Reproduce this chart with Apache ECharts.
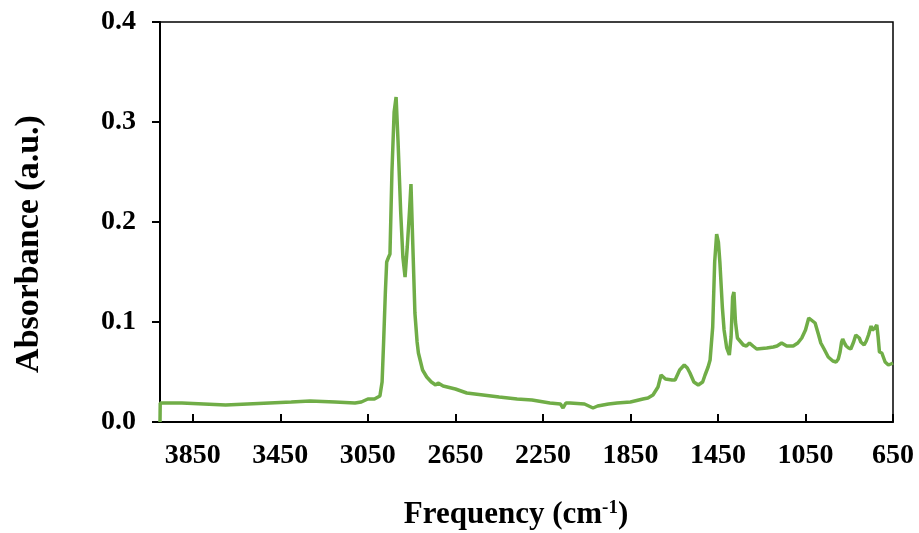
<!DOCTYPE html>
<html>
<head>
<meta charset="utf-8">
<script src="https://cdn.jsdelivr.net/npm/echarts@6/dist/echarts.min.js"></script>
<style>
  html, body { margin: 0; padding: 0; background: #fff; }
  #chart { width: 919px; height: 533px; }
</style>
</head>
<body>
<div id="chart"></div>
<script>
// FTIR spectrum, wavenumber (cm-1) vs absorbance
const wavenumber = [
  4000, 3999, 3900, 3800, 3700, 3600, 3500, 3400, 3314, 3200, 3109, 3080, 3050, 3020, 2995,
  2985, 2978, 2970, 2964, 2955, 2949, 2940, 2930, 2921, 2912, 2900, 2890, 2880, 2870, 2860,
  2853, 2845, 2835, 2825, 2819, 2800, 2781, 2760, 2752, 2740, 2729, 2706, 2650, 2598, 2524,
  2450, 2368, 2300, 2218, 2170, 2158, 2145, 2126, 2060, 2021, 2000, 1950, 1911, 1850, 1793,
  1770, 1747, 1724, 1710, 1701, 1690, 1684, 1660, 1646, 1625, 1604, 1590, 1578, 1560, 1540,
  1520, 1509, 1495, 1486, 1474, 1465, 1456, 1448, 1441, 1430, 1422, 1410, 1398, 1390, 1383,
  1377, 1370, 1361, 1334, 1320, 1306, 1290, 1273, 1227, 1197, 1180, 1159, 1136, 1106, 1085,
  1067, 1050, 1035, 1026, 1006, 990, 980, 965, 946, 925, 910, 900, 892, 885, 880,
  872, 864, 853, 843, 830, 820, 812, 804, 797, 782, 772, 762, 750, 745, 739,
  733, 724, 718, 712, 701, 686, 671, 660, 650
];
const absorbance = [
  0.000, 0.019, 0.019, 0.018, 0.017, 0.018, 0.019, 0.020, 0.021, 0.020, 0.019, 0.020, 0.023, 0.023, 0.026,
  0.040, 0.080, 0.130, 0.160, 0.165, 0.168, 0.250, 0.310, 0.325, 0.280, 0.210, 0.165, 0.145, 0.175, 0.210,
  0.238, 0.180, 0.109, 0.080, 0.069, 0.052, 0.045, 0.040, 0.039, 0.037, 0.039, 0.036, 0.033, 0.029, 0.027,
  0.025, 0.023, 0.022, 0.019, 0.018, 0.014, 0.019, 0.019, 0.018, 0.014, 0.016, 0.018, 0.019, 0.020, 0.023,
  0.024, 0.027, 0.035, 0.047, 0.049, 0.043, 0.042, 0.042, 0.042, 0.052, 0.057, 0.054, 0.049, 0.040, 0.037,
  0.040, 0.047, 0.055, 0.062, 0.095, 0.160, 0.188, 0.180, 0.159, 0.115, 0.092, 0.074, 0.067, 0.085, 0.125,
  0.130, 0.100, 0.084, 0.077, 0.076, 0.079, 0.076, 0.073, 0.074, 0.075, 0.076, 0.079, 0.076, 0.076, 0.079,
  0.084, 0.092, 0.104, 0.105, 0.099, 0.087, 0.079, 0.073, 0.065, 0.061, 0.060, 0.063, 0.070, 0.080, 0.083,
  0.079, 0.076, 0.074, 0.073, 0.080, 0.087, 0.089, 0.084, 0.080, 0.077, 0.081, 0.087, 0.096, 0.092, 0.090,
  0.094, 0.097, 0.085, 0.070, 0.069, 0.060, 0.057, 0.058, 0.059
];
const xTicks = [650, 1050, 1450, 1850, 2250, 2650, 3050, 3450, 3850];

const font = "'Liberation Serif', 'Times New Roman', serif";
const chart = echarts.init(document.getElementById('chart'));

chart.setOption({
  animation: false,
  grid: {
    left: 160, top: 22, width: 733, height: 400,
    show: true, borderColor: '#000', borderWidth: 1.5
  },
  xAxis: {
    type: 'value',
    min: 650, max: 4000,
    inverse: true,
    axisLine: { show: true, lineStyle: { color: '#000', width: 2 } },
    axisTick: { show: true, inside: true, length: 8, customValues: xTicks, lineStyle: { color: '#000', width: 2 } },
    axisLabel: {
      customValues: xTicks, margin: 20,
      color: '#000', fontFamily: font, fontWeight: 'bold', fontSize: 28,
      formatter: v => String(v)
    },
    splitLine: { show: false }
  },
  yAxis: {
    type: 'value',
    min: 0, max: 0.4, interval: 0.1,
    axisLine: { show: true, lineStyle: { color: '#000', width: 2 } },
    axisTick: { show: true, length: 8, lineStyle: { color: '#000', width: 2 } },
    axisLabel: {
      margin: 24, color: '#000', fontFamily: font, fontWeight: 'bold', fontSize: 28,
      formatter: v => v.toFixed(1)
    },
    splitLine: { show: false }
  },
  graphic: [
    {
      type: 'text', x: 29, y: 244, rotation: Math.PI / 2,
      style: {
        text: 'Absorbance (a.u.)', fill: '#000', fontFamily: font, fontWeight: 'bold', fontSize: 34,
        align: 'center', verticalAlign: 'middle'
      }
    },
    {
      type: 'text', x: 516, y: 515,
      style: {
        text: 'Frequency (cm{sup|-1})', fill: '#000', fontFamily: font, fontWeight: 'bold', fontSize: 31,
        align: 'center', verticalAlign: 'middle',
        rich: { sup: { fontFamily: font, fontWeight: 'bold', fontSize: 19, verticalAlign: 'top', padding: [0, 0, 13, 0] } }
      }
    }
  ],
  series: [{
    type: 'line',
    data: wavenumber.map((w, i) => [w, absorbance[i]]),
    showSymbol: false,
    lineStyle: { color: '#70ad47', width: 3.5 },
    itemStyle: { color: '#70ad47' }
  }]
});
</script>
</body>
</html>
